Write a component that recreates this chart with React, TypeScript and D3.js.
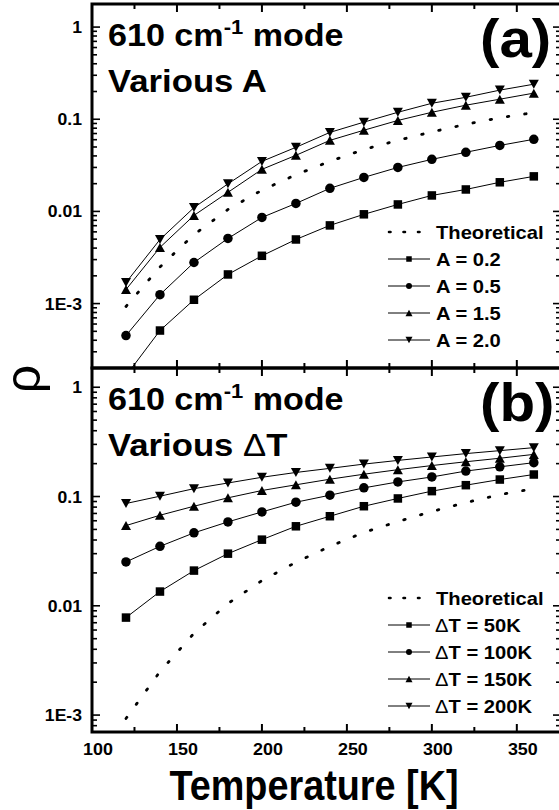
import React from "react";
import * as d3 from "d3";

// temperatures of the computed points [K]
const temps = [120, 140, 160, 180, 200, 220, 240, 260, 280, 300, 320, 340, 360];

// theoretical curve (same in both panels)
const theoretical = [9.3e-4, 2.5e-3, 5.6e-3, 0.0105, 0.017, 0.025, 0.035, 0.047, 0.059, 0.073, 0.088, 0.104, 0.118];

// panel (a): various A
const rhoA02 = [1.65e-4, 5.1e-4, 1.1e-3, 2.07e-3, 3.3e-3, 4.96e-3, 7.05e-3, 9.3e-3, 0.0119, 0.0149, 0.0173, 0.0207, 0.024];
const rhoA05 = [4.5e-4, 1.25e-3, 2.79e-3, 5.09e-3, 8.6e-3, 0.0122, 0.0178, 0.0234, 0.03, 0.0367, 0.0438, 0.052, 0.0606];
const rhoA15 = [1.42e-3, 4.07e-3, 9.05e-3, 0.0161, 0.0286, 0.0406, 0.059, 0.076, 0.097, 0.119, 0.142, 0.165, 0.192];
const rhoA20 = [1.69e-3, 4.96e-3, 0.011, 0.0199, 0.0349, 0.0496, 0.072, 0.093, 0.119, 0.149, 0.173, 0.207, 0.24];

// panel (b): various delta T
const rhoT50 = [7.8e-3, 0.0135, 0.021, 0.03, 0.0403, 0.0534, 0.066, 0.0815, 0.096, 0.112, 0.127, 0.143, 0.159];
const rhoT100 = [0.0252, 0.035, 0.0465, 0.0586, 0.0723, 0.0887, 0.1028, 0.12, 0.136, 0.151, 0.171, 0.187, 0.204];
const rhoT150 = [0.0542, 0.0674, 0.0815, 0.0973, 0.1135, 0.128, 0.144, 0.16, 0.176, 0.192, 0.208, 0.224, 0.243];
const rhoT200 = [0.0863, 0.1007, 0.118, 0.133, 0.15, 0.166, 0.181, 0.198, 0.214, 0.23, 0.247, 0.263, 0.28];

const labelsA = ["A = 0.2", "A = 0.5", "A = 1.5", "A = 2.0"];
const labelsT = ["T = 50K", "T = 100K", "T = 150K", "T = 200K"];
const markerKinds = ["square", "circle", "up", "down"];

const xMajor = [100, 150, 200, 250, 300, 350];
const xMinor = [125, 175, 225, 275, 325];
const yMajor = [1e-3, 0.01, 0.1, 1];
const yMajorLabels = ["1E-3", "0.01", "0.1", "1"];

const FONT = "Arial, Liberation Sans, Helvetica, sans-serif";
const W = 559;
const H = 810;
const LEFT = 92;
const RIGHT = 561;

const x = d3.scaleLinear().domain([100, 376]).range([LEFT, RIGHT]);

function marker(kind: string, cx: number, cy: number, s: number, key?: any) {
  if (kind === "square")
    return <rect key={key} x={cx - s / 2} y={cy - s / 2} width={s} height={s} fill="#000" />;
  if (kind === "circle") return <circle key={key} cx={cx} cy={cy} r={s / 2} fill="#000" />;
  const h = s * 0.45;
  const w = s / 2;
  const d =
    kind === "up"
      ? `M${cx - w},${cy + h}L${cx + w},${cy + h}L${cx},${cy - h}Z`
      : `M${cx - w},${cy - h}L${cx + w},${cy - h}L${cx},${cy + h}Z`;
  return <path key={key} d={d} fill="#000" />;
}

// text with a horizontal stretch
function Txt(props: any) {
  const { x, y, sx = 1, size, weight = "bold", anchor = "start", children } = props;
  return (
    <text
      transform={`translate(${x},${y}) scale(${sx},1)`}
      style={{ fontFamily: FONT }}
      fontSize={size}
      fontWeight={weight}
      textAnchor={anchor}
      fill="#000"
    >
      {children}
    </text>
  );
}

function Panel(props: any) {
  const { top, bottom, domain, series, labels, delta, tag, id, showX, legTop } = props;
  const y = d3.scaleLog().domain(domain).range([bottom, top]);
  const yTicks = y.ticks().filter((v) => v >= domain[0] && v <= domain[1]);
  const isMajor = (v: number) => Math.abs(Math.log10(v) - Math.round(Math.log10(v))) < 1e-6;
  const line = d3
    .line<number>()
    .x((d, i) => x(temps[i]))
    .y((d) => y(d));

  const legRow = 27;

  return (
    <g>
      <defs>
        <clipPath id={id}>
          <rect x={LEFT} y={top} width={RIGHT - LEFT} height={bottom - top} />
        </clipPath>
      </defs>
      <g clipPath={`url(#${id})`}>
        <path d={line(theoretical) || ""} fill="none" stroke="#000" strokeWidth={2.8}
          strokeDasharray="1.5 16" strokeLinecap="round" />
        {series.map((s: number[], k: number) => (
          <g key={k}>
            <path d={line(s) || ""} fill="none" stroke="#000" strokeWidth={1} />
            {s.map((v, i) =>
              marker(markerKinds[k], x(temps[i]), y(v), k === 0 ? 8.5 : k === 1 ? 9.5 : 10, i)
            )}
          </g>
        ))}
      </g>

      {/* frame */}
      <rect x={LEFT} y={top} width={RIGHT - LEFT} height={bottom - top} fill="none" stroke="#000" strokeWidth={3} />

      {/* x ticks top & bottom, inward */}
      {xMajor.concat(xMinor).map((t) => {
        const len = xMajor.includes(t) ? 8 : 5;
        return (
          <g key={"x" + t}>
            <line x1={x(t)} x2={x(t)} y1={top} y2={top + len} stroke="#000" strokeWidth={2} />
            <line x1={x(t)} x2={x(t)} y1={bottom} y2={bottom - len} stroke="#000" strokeWidth={2} />
          </g>
        );
      })}

      {/* y ticks left & right */}
      {yTicks.map((t) => {
        const len = isMajor(t) ? 8 : 5;
        return (
          <g key={"y" + t}>
            <line x1={LEFT} x2={LEFT + len} y1={y(t)} y2={y(t)} stroke="#000" strokeWidth={1.6} />
            <line x1={RIGHT} x2={RIGHT - len} y1={y(t)} y2={y(t)} stroke="#000" strokeWidth={1.6} />
          </g>
        );
      })}
      {yMajor.map((t, i) => (
        <Txt key={"yl" + i} x={82} y={y(t) + 6} size={16} sx={1.1} anchor="end">
          {yMajorLabels[i]}
        </Txt>
      ))}

      {showX &&
        xMajor.map((t) => (
          <Txt key={"xl" + t} x={x(t) + 6} y={bottom + 23} size={16} sx={1.12} anchor="middle">
            {t}
          </Txt>
        ))}

      {/* panel title */}
      <Txt x={108} y={top + 42} size={31} sx={1.1}>
        610 cm<tspan fontSize={20} dy={-12}>-1</tspan>
        <tspan dy={12}> mode</tspan>
      </Txt>
      <Txt x={108} y={top + 88} size={31} sx={1.12}>
        Various {delta ? <tspan fontWeight="normal">Δ</tspan> : null}
        {delta ? "T" : "A"}
      </Txt>
      <Txt x={480} y={top + 53} size={53} sx={1.1}>
        {tag}
      </Txt>

      {/* legend */}
      <line x1={389} x2={432} y1={legTop} y2={legTop} stroke="#000" strokeWidth={2.6}
        strokeDasharray="1.5 13" strokeLinecap="round" />
      <Txt x={436} y={legTop + 6.5} size={18} sx={1.12}>
        Theoretical
      </Txt>
      {labels.map((lab: string, k: number) => {
        const ly = legTop + legRow * (k + 1);
        return (
          <g key={"lg" + k}>
            <line x1={388} x2={430} y1={ly} y2={ly} stroke="#000" strokeWidth={1} />
            {marker(markerKinds[k], 409, ly, k === 1 ? 6 : k === 0 ? 5.5 : 7)}
            <Txt x={delta ? 435 : 436} y={ly + 6.5} size={18} sx={1.12}>
              {delta ? <tspan fontWeight="normal">Δ</tspan> : null}
              {lab}
            </Txt>
          </g>
        );
      })}
    </g>
  );
}

export default function App() {
  return (
    <svg width={W} height={H} style={{ position: "absolute", left: 0, top: 0, background: "#fff" }}>
      <rect width={W} height={H} fill="#fff" />
      <Panel id="clipA" top={4} bottom={368} domain={[2e-4, 1.78]} legTop={232}
        series={[rhoA02, rhoA05, rhoA15, rhoA20]} labels={labelsA} delta={false} tag="(a)" showX={false} />
      <Panel id="clipB" top={368} bottom={732} domain={[7e-4, 1.5]} legTop={598}
        series={[rhoT50, rhoT100, rhoT150, rhoT200]} labels={labelsT} delta={true} tag="(b)" showX={true} />
      <Txt x={314} y={800} size={42} sx={0.9} anchor="middle">
        Temperature [K]
      </Txt>
      <text transform="translate(40,379) rotate(-90)" style={{ fontFamily: FONT }} fontSize={50}
        textAnchor="middle" fill="#000">
        ρ
      </text>
    </svg>
  );
}
